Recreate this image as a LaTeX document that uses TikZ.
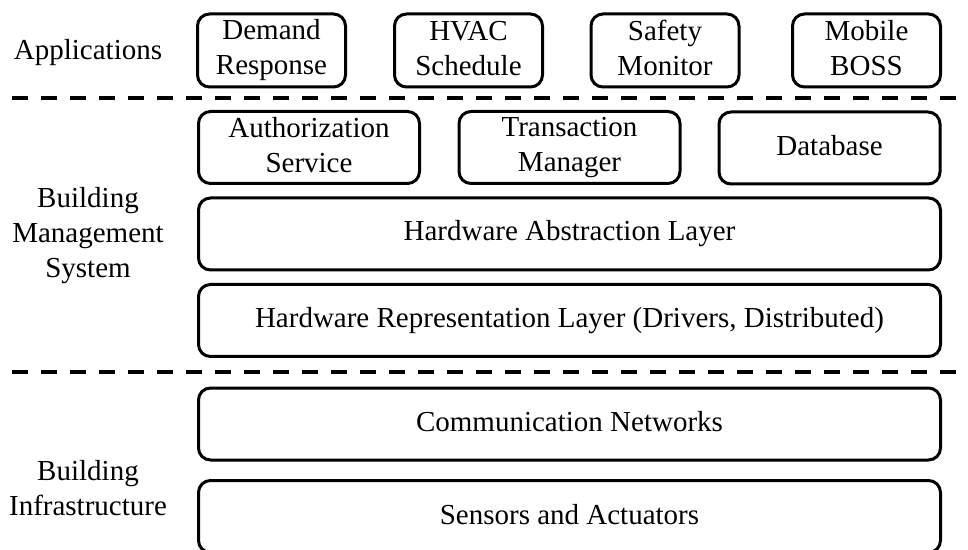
\documentclass[tikz,border=0pt]{standalone}
\usepackage{fontspec}
\setmainfont{Liberation Serif}
% every text line gets the same height and depth, so labels sit alike
\newcommand{\ls}{\rule[-2.5pt]{0pt}{12pt}}
\begin{document}
\begin{tikzpicture}[x=0.5pt,y=-0.5pt,
  every node/.style={font=\fontsize{14.5}{17.5}\selectfont, align=center, inner sep=0pt},
  layerbox/.style={draw=black, line width=1.5pt, rounded corners=6pt},
  appbox/.style={layerbox, minimum width=74pt, minimum height=36.5pt},
  svcbox/.style={layerbox, minimum width=110.5pt, minimum height=36pt},
  widebox/.style={layerbox, minimum width=371pt, minimum height=36pt},
  tierlabel/.style={},
  divider/.style={line width=2pt, dash pattern=on 8pt off 6.5pt}]
  % canvas
  \useasboundingbox (0,0) rectangle (968,550);
  \clip (0,0) rectangle (968,550);

  % tier labels
  \node[tierlabel] (tApp) at (88,52.5) {\ls Applications};
  \node[tierlabel] (tBMS) at (88,236) {\ls Building\\\ls Management\\\ls System};
  \node[tierlabel] (tInf) at (88,490) {\ls Building\\\ls Infrastructure};

  % applications
  \node[appbox] (dr)  at (271.5,50.5) {\ls Demand\\\ls Response};
  \node[appbox] (hv)  at (468.5,50.5) {\ls HVAC\\\ls Schedule};
  \node[appbox] (sm)  at (665,50.5)   {\ls Safety\\\ls Monitor};
  \node[appbox] (mb)  at (866.5,50.5) {\ls Mobile\\\ls BOSS};

  % tier dividers
  \coordinate (d1a) at (12,98);  \coordinate (d1b) at (968,98);
  \coordinate (d2a) at (12,372); \coordinate (d2b) at (968,372);
  \draw[divider] (d1a) -- (d1b);
  \draw[divider] (d2a) -- (d2b);

  % building management system
  \node[svcbox] (auth) at (309,147.5)   {\ls Authorization\\\ls Service};
  \node[svcbox] (tm)   at (569.5,147.5) {\ls Transaction\\\ls Manager};
  \node[svcbox] (db)   at (829.5,148)   {\ls Database};
  \node[widebox] (hal) at (569.5,234)   {\ls Hardware Abstraction Layer};
  \node[widebox] (hrl) at (569.5,320.5) {\ls Hardware Representation Layer (Drivers, Distributed)};

  % building infrastructure
  \node[widebox] (cn) at (569.5,424)   {\ls Communication Networks};
  \node[widebox] (sa) at (569.5,516.5) {\ls Sensors and Actuators};
\end{tikzpicture}
\end{document}
